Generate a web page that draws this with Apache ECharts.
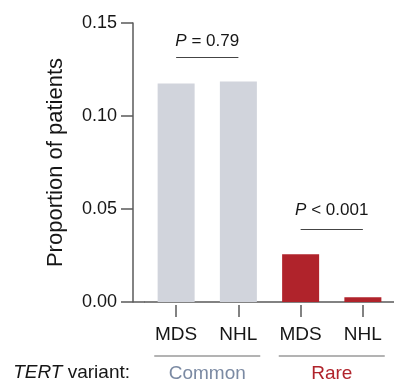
<!DOCTYPE html>
<html>
<head>
<meta charset="utf-8">
<script src="https://cdn.jsdelivr.net/npm/echarts@6/dist/echarts.min.js"></script>
<style>
  html, body { margin: 0; padding: 0; background: #fff; }
  #chart { width: 394px; height: 383px; }
</style>
</head>
<body>
<div id="chart"></div>
<script>
// data
const categories = ['MDS', 'NHL', 'MDS', 'NHL']
const variantOf = ['Common', 'Common', 'Rare', 'Rare']
const proportions = [0.1175, 0.1186, 0.0257, 0.0026]
const variantGroups = ['Common', 'Rare']
const comparisons = [[0, 1], [2, 3]]
const pText = ['P = 0.79', 'P < 0.001']
const pLineAt = [0.1314, 0.0392]

const FONT = '"Liberation Sans", Arial, Helvetica, sans-serif'
const INK = '#161616'
const AXIS = '#5a5a5a'
const groupColor = { Common: '#d1d4dc', Rare: '#b0232b' }
const groupText = { Common: '#7b8aa3', Rare: '#b0232b' }

const gridLeft = 145
const gridTop = 23
const yOffset = 12

let chart = echarts.init(document.getElementById('chart'))

let option = {
  animation: false,
  textStyle: { fontFamily: FONT, color: INK },
  grid: { left: gridLeft, top: gridTop, width: 250, height: 283, containLabel: false },
  yAxis: {
    type: 'value',
    min: 0,
    max: 0.15,
    interval: 0.05,
    offset: yOffset,
    axisLine: { show: true, lineStyle: { color: AXIS, width: 1.5 } },
    axisTick: { show: true, length: 12, lineStyle: { color: AXIS, width: 1.5 } },
    splitLine: { show: false },
    axisLabel: { fontSize: 18, color: INK, margin: 16, formatter: v => v.toFixed(2) },
    name: 'Proportion of patients',
    nameLocation: 'middle',
    nameGap: 66,
    nameTextStyle: { fontSize: 22, color: INK }
  },
  xAxis: [
    {
      // the axis line only
      type: 'category',
      position: 'bottom',
      data: categories,
      axisLine: { show: true, lineStyle: { color: AXIS, width: 1.5 } },
      axisTick: { show: false },
      axisLabel: { show: false }
    },
    {
      // detached ticks + category labels
      type: 'category',
      position: 'bottom',
      offset: 3,
      data: categories,
      axisLine: { show: false },
      axisTick: { show: true, alignWithLabel: true, length: 12, lineStyle: { color: AXIS, width: 1.5 } },
      axisLabel: { fontSize: 19, color: INK, margin: 20 }
    },
    {
      // TERT variant groups
      type: 'category',
      position: 'bottom',
      offset: 54,
      data: variantGroups.map(g => ({ value: g, textStyle: { color: groupText[g] } })),
      axisLine: { show: false },
      axisTick: { show: false },
      axisLabel: { fontSize: 19, margin: 8 }
    }
  ],
  series: [{
    type: 'bar',
    xAxisIndex: 0,
    barWidth: 37,
    data: proportions.map((v, i) => ({ value: v, itemStyle: { color: groupColor[variantOf[i]] } })),
    markLine: {
      silent: true,
      symbol: 'none',
      lineStyle: { color: '#444', width: 1.2, type: 'solid' },
      label: {
        position: 'insideMiddleTop',
        fontSize: 17,
        color: INK,
        fontFamily: FONT,
        rich: { i: { fontStyle: 'italic', fontSize: 17, color: INK, fontFamily: FONT } }
      },
      data: comparisons.map((pair, k) => [
        {
          coord: [pair[0], pLineAt[k]],
          label: {
            distance: k === 0 ? 8 : 10,
            formatter: '{i|P}' + pText[k].slice(1)
          }
        },
        { coord: [pair[1], pLineAt[k]] }
      ])
    }
  }]
}

chart.setOption(option)

// group underlines, the bit of x axis left of the first band, and the row caption
let base = chart.convertToPixel({ yAxisIndex: 0 }, 0)
let lineY = base + 54
let graphics = [{
  type: 'line',
  shape: { x1: gridLeft - yOffset, y1: base, x2: gridLeft, y2: base },
  style: { stroke: AXIS, lineWidth: 1.5 }
}]
variantGroups.forEach(g => {
  let cx = chart.convertToPixel({ xAxisIndex: 2 }, g)
  graphics.push({
    type: 'line',
    shape: { x1: cx - 53, y1: lineY, x2: cx + 53, y2: lineY },
    style: { stroke: '#9a9a9a', lineWidth: 1.5 }
  })
})
graphics.push({
  type: 'text',
  style: {
    text: '{i|TERT} variant:',
    x: 130,
    y: lineY + 17,
    align: 'right',
    verticalAlign: 'middle',
    fontSize: 19,
    fontFamily: FONT,
    fill: INK,
    rich: { i: { fontStyle: 'italic', fontSize: 19, fontFamily: FONT, fill: INK } }
  }
})
chart.setOption({ graphic: graphics })
</script>
</body>
</html>
